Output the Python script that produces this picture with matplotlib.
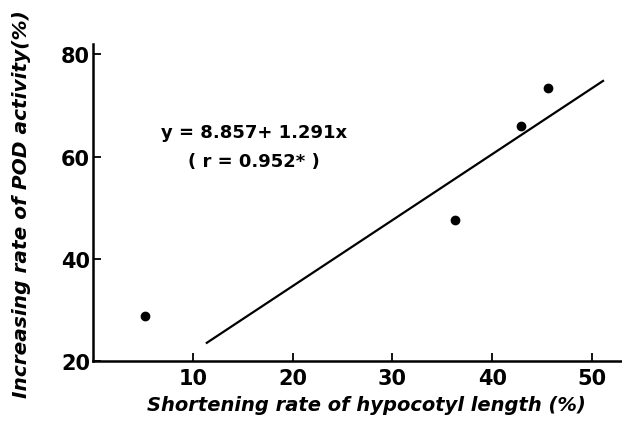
import matplotlib
matplotlib.use("Agg")
import matplotlib.pyplot as plt
import numpy as np

# measured values
shortening = [5.2, 36.3, 42.9, 45.6]
pod_increase = [28.8, 47.7, 66.1, 73.5]
intercept = 8.857
slope = 1.291
fit_x_range = [11.4, 51.1]
x_ticks = [10, 20, 30, 40, 50]
y_ticks = [20, 40, 60, 80]

plt.rcParams['font.family'] = 'DejaVu Sans'

fig = plt.figure(figsize=(6.22, 4.27), dpi=100)
ax = fig.add_axes([0.1495, 0.152, 0.8505, 0.742])

ax.scatter(shortening, pod_increase, s=36, color='black', zorder=3)
fx = np.array(fit_x_range)
ax.plot(fx, intercept + slope * fx, color='black', lw=1.6)

ax.set_xlim(0, 53)
ax.set_ylim(20, 82)
ax.set_xticks(x_ticks)
ax.set_yticks(y_ticks)
ax.set_xticklabels([str(t) for t in x_ticks], fontsize=15, fontweight='bold')
ax.set_yticklabels([str(t) for t in y_ticks], fontsize=15, fontweight='bold')
ax.tick_params(direction='in', width=1.3, length=6, pad=5)
ax.tick_params(axis='y', pad=2)

for s in ['top', 'right']:
    ax.spines[s].set_visible(False)
for s in ['left', 'bottom']:
    ax.spines[s].set_linewidth(1.8)

ax.text(0.305, 0.722, 'y = 8.857+ 1.291x', transform=ax.transAxes, ha='center', va='center',
        fontsize=13, fontweight='bold')
ax.text(0.305, 0.631, '( r = 0.952* )', transform=ax.transAxes, ha='center', va='center',
        fontsize=13, fontweight='bold')

fig.text(0.589, 0.051, 'Shortening rate of hypocotyl length (%)', ha='center', va='center',
         fontsize=14, fontweight='bold', style='italic')
fig.text(0.035, 0.522, 'Increasing rate of POD activity(%)', ha='center', va='center',
         rotation=90, fontsize=14.5, fontweight='bold', style='italic')

fig.savefig('out.png', dpi=100)
